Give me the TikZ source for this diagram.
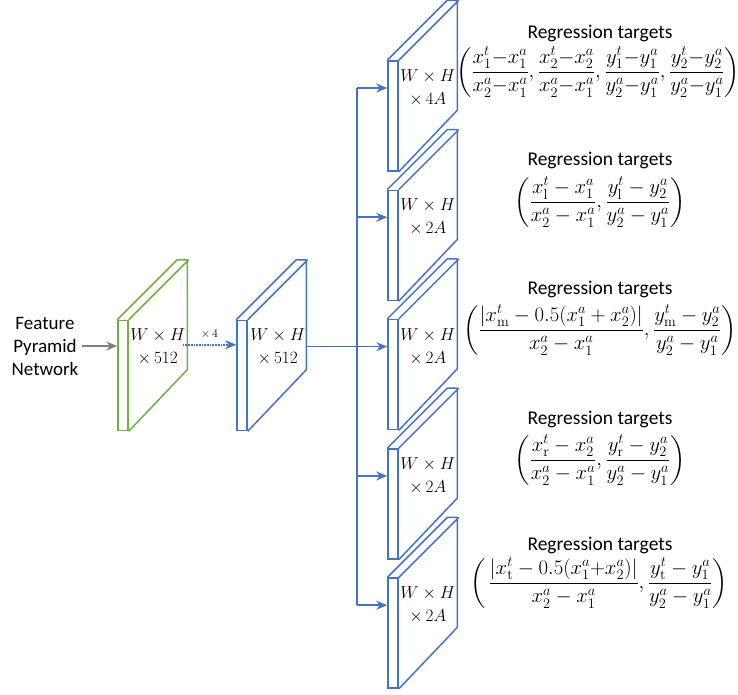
\documentclass[tikz,border=0pt]{standalone}
\usepackage{amsmath}
\usepackage[no-math]{fontspec}
\setmainfont{Carlito}
\usetikzlibrary{arrows.meta}
\definecolor{slabblue}{HTML}{4472C4}
\definecolor{slabgreen}{HTML}{70AD47}
\definecolor{fpngray}{HTML}{7F7F7F}

\begin{document}
\begin{tikzpicture}[x=1pt, y=-1pt,
    front/.style={draw=#1, rectangle, minimum width=10pt, minimum height=110pt, inner sep=0pt, line width=1.5pt},
    side/.style={draw=#1, line width=1.5pt, line join=round},
    dims/.style={align=center, font=\fontsize{17.5}{23}\selectfont},
    title/.style={font=\fontsize{19.5}{22}\selectfont},
    target/.style={font=\fontsize{20}{24}\selectfont, inner sep=0pt},
    arrow/.style={->, >={Stealth[length=11pt,width=9pt]}, line width=1.7pt}
  ]
  \useasboundingbox (0,0) rectangle (738,694);

  % input and shared layer
  \node[align=center, font=\fontsize{19}{23}\selectfont] (fpn) at (45,346) {Feature\\Pyramid\\Network};
  \node[front=slabgreen] (gin) at (123,375.5) {};
  \draw[side=slabgreen] (gin.north west) -- ++(60,-60) -- ++(10,0) -- ++(0,110) -- (gin.south east)
    (gin.north east) -- ++(60,-60);
  \node[dims] (gdim) at ([xshift=29pt,yshift=-27.5pt]gin.north east) {$W\times H$\\$\times\,512$};

  \node[front=slabblue] (mid) at (242,375.5) {};
  \draw[side=slabblue] (mid.north west) -- ++(60,-60) -- ++(10,0) -- ++(0,110) -- (mid.south east)
    (mid.north east) -- ++(60,-60);
  \node[dims] (mdim) at ([xshift=30pt,yshift=-27.5pt]mid.north east) {$W\times H$\\$\times\,512$};

  \draw[arrow, fpngray] (fpn.east) -- (fpn.east -| gin.west);
  \coordinate (rep) at ([xshift=54pt,yshift=-25pt]gin.north east);
  \draw[arrow, slabblue, densely dotted, line width=2pt] (rep) -- (rep -| mid.west)
    node[midway, above=2pt, text=black, font=\fontsize{12.5}{14}\selectfont] (rep4) {$\times\,4$};

  % regression heads
  \foreach \i/\t/\n in {1/61/4, 2/190.3/2, 3/319.6/2, 4/448.9/2, 5/578.2/2} {
    \node[front=slabblue] (s\i) at (393,\t+55) {};
    \draw[side=slabblue] (s\i.north west) -- ++(60,-60) -- ++(10,0) -- ++(0,110) -- (s\i.south east)
      (s\i.north east) -- ++(60,-60);
    \node[dims] (d\i) at ([xshift=29pt,yshift=-27.5pt]s\i.north east) {$W\times H$\\$\times\,\n A$};
    \coordinate (b\i) at (357,\t+27);
  }
  \draw[slabblue, line width=1.7pt] (b1) -- (b5);
  \foreach \i in {1,2,4,5}
    \draw[arrow, slabblue] (b\i) -- (b\i -| s\i.west);
  \coordinate (midout) at ([xshift=58pt]mid.east);
  \draw[arrow, slabblue] (midout |- b3) -- (b3 -| s3.west);

  % targets
  \node[title] (t1) at (600,33) {Regression targets};
  \node[title] (t2) at (600,160) {Regression targets};
  \node[title] (t3) at (600,289) {Regression targets};
  \node[title] (t4) at (600,419) {Regression targets};
  \node[title] (t5) at (600,545) {Regression targets};

  \node[target] (f1) at (598,72) {$\displaystyle\left(\frac{x_1^t{-}x_1^a}{x_2^a{-}x_1^a},\frac{x_2^t{-}x_2^a}{x_2^a{-}x_1^a},\frac{y_1^t{-}y_1^a}{y_2^a{-}y_1^a},\frac{y_2^t{-}y_2^a}{y_2^a{-}y_1^a}\right)$};
  \node[target] (f2) at (600,202) {$\displaystyle\left(\frac{x_{\mathrm{l}}^t-x_1^a}{x_2^a-x_1^a},\frac{y_{\mathrm{l}}^t-y_2^a}{y_2^a-y_1^a}\right)$};
  \node[target] (f3) at (600,330) {$\displaystyle\left(\frac{|x_{\mathrm{m}}^t-0.5(x_1^a+x_2^a)|}{x_2^a-x_1^a},\frac{y_{\mathrm{m}}^t-y_2^a}{y_2^a-y_1^a}\right)$};
  \node[target] (f4) at (600,460) {$\displaystyle\left(\frac{x_{\mathrm{r}}^t-x_2^a}{x_2^a-x_1^a},\frac{y_{\mathrm{r}}^t-y_2^a}{y_2^a-y_1^a}\right)$};
  \node[target] (f5) at (599,583) {$\displaystyle\left(\,\frac{|x_{\mathrm{t}}^t-0.5(x_1^a{+}x_2^a)|}{x_2^a-x_1^a},\frac{y_{\mathrm{t}}^t-y_1^a}{y_2^a-y_1^a}\right)$};
\end{tikzpicture}
\end{document}
